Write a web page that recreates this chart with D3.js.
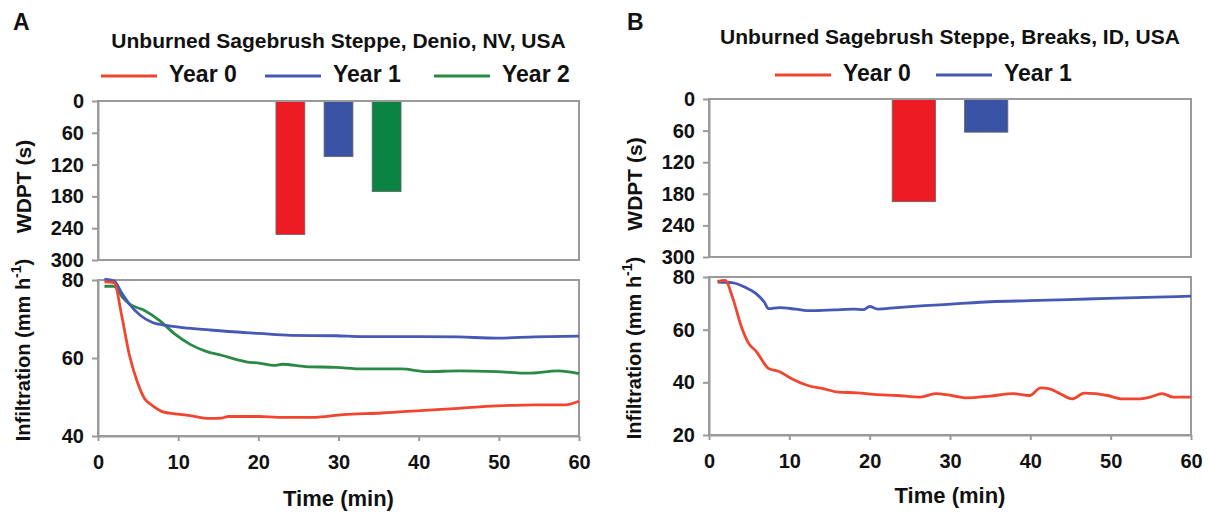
<!DOCTYPE html>
<html>
<head>
<meta charset="utf-8">
<script src="https://cdn.jsdelivr.net/npm/d3@7"></script>
<style>
  html, body { margin: 0; padding: 0; background: #fff; }
  svg text { font-family: "Liberation Sans", Arial, sans-serif; font-weight: bold; fill: #111; }
</style>
</head>
<body>
<svg id="chart" width="1212" height="514"></svg>
<script>
// ---- Data -------------------------------------------------------------
const years = ["Year 0", "Year 1", "Year 2"];
const yearColors = { "Year 0": "#ed1c24", "Year 1": "#3a53a4", "Year 2": "#0b8443" };
const lineColors = { "Year 0": "#f04630", "Year 1": "#4659b4", "Year 2": "#2a8a45" };

// Water drop penetration time (s)
const wdptDenio = [252, 105, 171];
const wdptBreaks = [195, 63];

// Infiltration (mm h-1) through time (min) — Denio, NV
const denioTime0 = [0.8, 2, 3, 3.9, 4.9, 5.8, 6.8, 8.2, 9.6, 11.5, 13.9, 15.4, 16.3, 20.1, 22.5, 26.8, 30.6, 35.4, 40.2, 45, 49.7, 54.5, 58.3, 60];
const denioRate0 = [79.5, 79.3, 70.4, 60.9, 53.9, 49.6, 47.8, 46.1, 45.7, 45.2, 44.5, 44.6, 45.0, 45.0, 44.8, 44.8, 45.5, 45.9, 46.5, 47.1, 47.7, 48.0, 48.0, 48.9];
const denioTime1 = [0.8, 2, 3, 3.9, 5.3, 6.8, 8.7, 10.6, 13.9, 16.3, 20.1, 24, 29.7, 33, 40.2, 45, 49.7, 54.5, 60];
const denioRate1 = [80.2, 79.8, 76.5, 73.9, 70.9, 69.1, 68.3, 67.8, 67.2, 66.8, 66.3, 65.8, 65.7, 65.5, 65.5, 65.4, 65.1, 65.4, 65.6];
const denioTime2 = [0.8, 2, 3, 3.9, 5.8, 7.7, 9.6, 11.5, 13.5, 15.4, 17.3, 18.5, 20.1, 22, 23, 25.9, 29.7, 33, 37.8, 41.1, 45, 49.7, 53.6, 57.4, 60];
const denioRate2 = [78.4, 78.4, 75.7, 73.9, 72.2, 69.6, 66.1, 63.5, 61.7, 60.7, 59.6, 59.0, 58.7, 58.1, 58.4, 57.8, 57.6, 57.2, 57.2, 56.5, 56.7, 56.5, 56.1, 56.7, 56.0];

// Infiltration (mm h-1) through time (min) — Breaks, ID
const breaksTime0 = [1.07, 2, 3, 4, 4.9, 5.9, 7.4, 8.8, 10.3, 12.2, 14.2, 16.1, 18.5, 20.5, 23.4, 26.3, 28.2, 30.2, 32.1, 35, 37.9, 39.9, 41.3, 42.3, 43.7, 45.2, 46.7, 48.1, 49.6, 51.5, 53.4, 54.9, 56.4, 57.8, 60];
const breaksRate0 = [78.3, 78.7, 71.6, 61.4, 55, 51.7, 45.3, 44, 41.4, 38.9, 37.6, 36.3, 36, 35.4, 35, 34.4, 35.7, 35, 34.1, 34.8, 35.7, 35, 37.9, 37.6, 35.7, 33.7, 35.9, 35.7, 35, 33.7, 33.7, 34.4, 35.7, 34.4, 34.4];
const breaksTime1 = [1.07, 3, 4.5, 5.9, 6.9, 7.4, 8.8, 10.8, 12.7, 15.6, 18, 19.2, 20, 21, 23.4, 26.8, 30.2, 35, 39.9, 44.7, 49.6, 54.4, 60];
const breaksRate1 = [78.1, 77.8, 76.1, 73.6, 70.4, 68, 68.4, 67.8, 67.2, 67.5, 67.8, 67.6, 68.8, 67.8, 68.4, 69.1, 69.7, 70.6, 71, 71.4, 71.9, 72.3, 72.7];

// Axis ticks
const wdptTicks = [0, 60, 120, 180, 240, 300];
const timeTicks = [0, 10, 20, 30, 40, 50, 60];
const denioRateTicks = [40, 60, 80];
const breaksRateTicks = [20, 40, 60, 80];

// ---- Panels -----------------------------------------------------------
const panels = [
  {
    letter: "A",
    title: "Unburned Sagebrush Steppe, Denio, NV, USA",
    years: years,
    wdpt: wdptDenio,
    series: [
      { year: "Year 0", t: denioTime0, v: denioRate0 },
      { year: "Year 1", t: denioTime1, v: denioRate1 },
      { year: "Year 2", t: denioTime2, v: denioRate2 }
    ],
    rateDomain: [40, 80], rateTicks: denioRateTicks,
    left: 98, right: 579, top: [101, 260], bottom: [280, 436],
    letterPos: [13, 30], titleY: 42, legendY: 76, legendX: [101, 265, 434],
    axisTitleX: 25, timeY: 500
  },
  {
    letter: "B",
    title: "Unburned Sagebrush Steppe, Breaks, ID, USA",
    years: years.slice(0, 2),
    wdpt: wdptBreaks,
    series: [
      { year: "Year 0", t: breaksTime0, v: breaksRate0 },
      { year: "Year 1", t: breaksTime1, v: breaksRate1 }
    ],
    rateDomain: [20, 80], rateTicks: breaksRateTicks,
    left: 709, right: 1191, top: [99, 257], bottom: [277, 435],
    letterPos: [627, 30], titleY: 38, legendY: 75, legendX: [775, 936],
    axisTitleX: 636, timeY: 497
  }
];

const svg = d3.select("#chart");
const axisGray = "#9a9a9a";

function styleAxis(g) {
  g.selectAll(".domain").attr("stroke", axisGray).attr("stroke-width", 2);
  g.selectAll(".tick line").attr("stroke", axisGray).attr("stroke-width", 2);
  g.selectAll(".tick text")
    .style("font-family", '"Liberation Sans", Arial, sans-serif')
    .style("font-weight", "bold").style("font-size", "20px").attr("fill", "#111");
}

panels.forEach(p => {
  const g = svg.append("g");

  // Panel letter and title
  g.append("text").attr("x", p.letterPos[0]).attr("y", p.letterPos[1])
    .style("font-size", "23px").text(p.letter);
  g.append("text").attr("x", (p.left + p.right) / 2).attr("y", p.titleY)
    .attr("text-anchor", "middle").attr("dominant-baseline", "middle")
    .style("font-size", "21px").text(p.title);

  // Legend
  p.years.forEach((yr, i) => {
    const x0 = p.legendX[i];
    g.append("line").attr("x1", x0).attr("x2", x0 + 56)
      .attr("y1", p.legendY).attr("y2", p.legendY)
      .attr("stroke", lineColors[yr]).attr("stroke-width", 3);
    g.append("text").attr("x", x0 + 68).attr("y", p.legendY)
      .attr("dominant-baseline", "middle").style("font-size", "23px").text(yr);
  });

  // ---- WDPT bar chart (0 at top) ----
  const yW = d3.scaleLinear().domain([0, 300]).range(p.top);
  const w = p.right - p.left;
  const xBand = d3.scaleBand().domain(p.years)
    .range([p.left + 0.35 * w, p.left + 0.65 * w])
    .paddingInner(0.4).paddingOuter(0.2);

  g.selectAll(".bar").data(p.years.map((yr, i) => ({ yr, val: p.wdpt[i] })))
    .enter().append("rect")
    .attr("x", d => xBand(d.yr)).attr("width", xBand.bandwidth())
    .attr("y", yW(0)).attr("height", d => yW(d.val) - yW(0))
    .attr("fill", d => yearColors[d.yr])
    .attr("stroke", "#666").attr("stroke-width", 0.8);

  g.append("rect").attr("x", p.left).attr("y", p.top[0])
    .attr("width", w).attr("height", p.top[1] - p.top[0])
    .attr("fill", "none").attr("stroke", axisGray).attr("stroke-width", 2);

  g.append("g").attr("transform", `translate(${p.left},0)`)
    .call(d3.axisLeft(yW).tickValues(wdptTicks).tickSize(6).tickSizeOuter(0).tickPadding(8))
    .call(styleAxis);

  g.append("text")
    .attr("transform", `translate(${p.axisTitleX},${(p.top[0] + p.top[1]) / 2 + 6}) rotate(-90)`)
    .attr("text-anchor", "middle").attr("dominant-baseline", "middle")
    .style("font-size", "21px").text("WDPT (s)");

  // ---- Infiltration lines ----
  const xT = d3.scaleLinear().domain([0, 60]).range([p.left, p.right]);
  const yR = d3.scaleLinear().domain(p.rateDomain).range([p.bottom[1], p.bottom[0]]);

  g.append("rect").attr("x", p.left).attr("y", p.bottom[0])
    .attr("width", w).attr("height", p.bottom[1] - p.bottom[0])
    .attr("fill", "none").attr("stroke", axisGray).attr("stroke-width", 2);

  const line = d3.line().x(d => xT(d[0])).y(d => yR(d[1])).curve(d3.curveMonotoneX);
  // Draw later years first so Year 0 sits on top
  p.series.slice().reverse().forEach(s => {
    g.append("path").datum(s.t.map((t, i) => [t, s.v[i]]))
      .attr("d", line).attr("fill", "none")
      .attr("stroke", lineColors[s.year]).attr("stroke-width", 2.8)
      .attr("stroke-linejoin", "round");
  });

  g.append("g").attr("transform", `translate(${p.left},0)`)
    .call(d3.axisLeft(yR).tickValues(p.rateTicks).tickSize(6).tickSizeOuter(0).tickPadding(8))
    .call(styleAxis);
  g.append("g").attr("transform", `translate(0,${p.bottom[1]})`)
    .call(d3.axisBottom(xT).tickValues(timeTicks).tickSize(5).tickSizeOuter(0).tickPadding(14))
    .call(styleAxis);

  const yl = g.append("text")
    .attr("transform", `translate(${p.axisTitleX},${(p.bottom[0] + p.bottom[1]) / 2 - 8}) rotate(-90)`)
    .attr("text-anchor", "middle").attr("dominant-baseline", "middle")
    .style("font-size", "20px");
  yl.append("tspan").text("Infiltration (mm h");
  yl.append("tspan").attr("baseline-shift", "super").style("font-size", "14px").text("-1");
  yl.append("tspan").text(")");

  g.append("text").attr("x", (p.left + p.right) / 2).attr("y", p.timeY)
    .attr("text-anchor", "middle").attr("dominant-baseline", "middle")
    .style("font-size", "22px").text("Time (min)");
});
</script>
</body>
</html>
